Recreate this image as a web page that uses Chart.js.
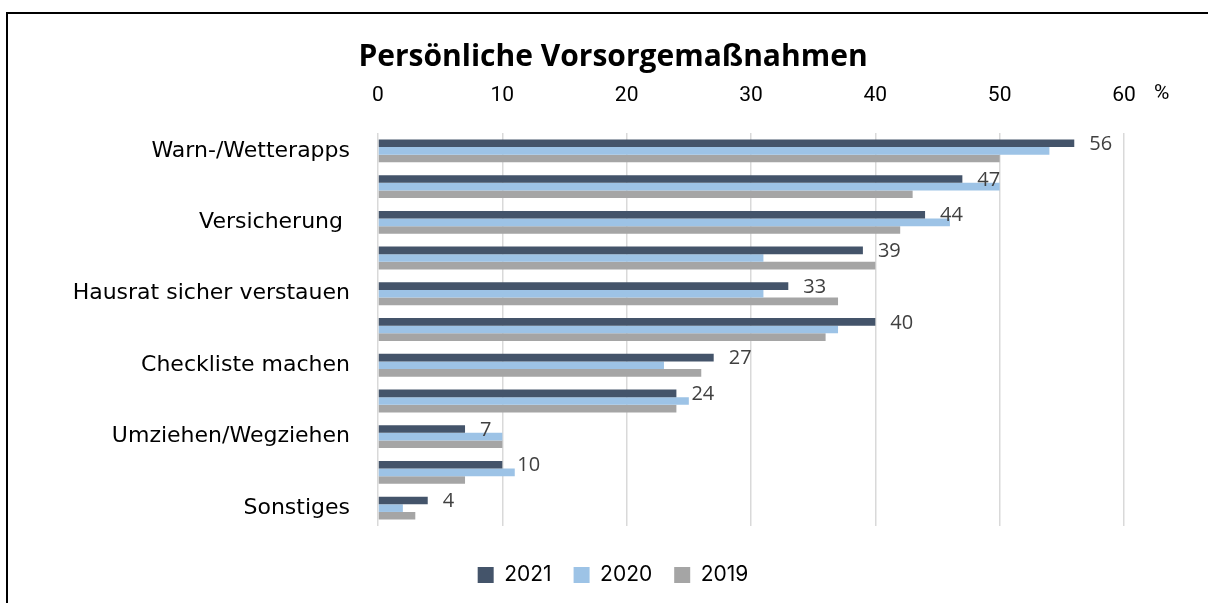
<!DOCTYPE html>
<html>
<head>
<meta charset="utf-8">
<script src="https://cdn.jsdelivr.net/npm/chart.js@4.4.1/dist/chart.umd.min.js"></script>
<style>
  html, body { margin: 0; padding: 0; background: #fff; }
  #wrap { position: relative; width: 1208px; height: 603px; overflow: hidden; }
  #frame { position: absolute; left: 6px; top: 12px; width: 1300px; height: 700px;
           border-left: 2px solid #000; border-top: 2px solid #000; }
  canvas { position: absolute; left: 0; top: 0; }
</style>
</head>
<body>
<div id="wrap">
  <div id="frame"></div>
  <canvas id="c" width="1208" height="603"></canvas>
</div>
<script>
const categories = ['Warn-/Wetterapps', '', 'Versicherung ', '', 'Hausrat sicher verstauen', '', 'Checkliste machen', '', 'Umziehen/Wegziehen', '', 'Sonstiges'];
const seriesNames = ['2021', '2020', '2019'];
const values2021 = [56, 47, 44, 39, 33, 40, 27, 24, 7, 10, 4];
const values2020 = [54, 50, 46, 31, 31, 37, 23, 25, 10, 11, 2];
const values2019 = [50, 43, 42, 40, 37, 36, 26, 24, 10, 7, 3];
const xTicks = [0, 10, 20, 30, 40, 50, 60];
const unitLabel = '%';
const titleText = 'Persönliche Vorsorgemaßnahmen';

const colors = ['#44546A', '#9DC3E6', '#A5A5A5'];

const labelPlugin = {
  id: 'valueLabels',
  afterDatasetsDraw(chart) {
    const ctx = chart.ctx;
    const meta = chart.getDatasetMeta(0);
    ctx.save();
    ctx.font = '20px "Open Sans", sans-serif';
    ctx.fillStyle = '#404040';
    ctx.textAlign = 'left';
    ctx.textBaseline = 'middle';
    meta.data.forEach((bar, i) => {
      ctx.fillText(String(values2021[i]), bar.x + 15, bar.y + 1);
    });
    const xs = chart.scales.x;
    const px = xs.getPixelForValue(xTicks[xTicks.length - 1]);
    ctx.font = '21px Roboto, sans-serif';
    ctx.fillStyle = '#000';
    ctx.textAlign = 'left';
    ctx.fillText(unitLabel, px + 30, 94);
    ctx.restore();
  }
};

new Chart(document.getElementById('c'), {
  type: 'bar',
  data: {
    labels: categories,
    datasets: [
      { label: seriesNames[0], data: values2021, backgroundColor: colors[0] },
      { label: seriesNames[1], data: values2020, backgroundColor: colors[1] },
      { label: seriesNames[2], data: values2019, backgroundColor: colors[2] }
    ]
  },
  options: {
    indexAxis: 'y',
    responsive: false,
    animation: false,
    devicePixelRatio: 1,
    categoryPercentage: 0.64,
    barPercentage: 1.0,
    layout: { padding: { left: 18, right: 0, top: 0, bottom: 7.5 } },
    plugins: {
      title: {
        display: true,
        text: titleText,
        color: '#000',
        font: { family: '"Open Sans", sans-serif', size: 30, weight: 'bold', lineHeight: 1.2 },
        padding: { top: 39, bottom: 0 }
      },
      legend: {
        position: 'bottom',
        title: { display: true, text: '', font: { size: 1 }, padding: { top: 15.3, bottom: 0 } },
        labels: {
          boxWidth: 16, boxHeight: 16, padding: 22,
          color: '#000',
          font: { family: 'Inter, sans-serif', size: 21 }
        }
      },
      tooltip: { enabled: false }
    },
    scales: {
      x: {
        position: 'top',
        min: 0, max: 60,
        afterBuildTicks(scale) { scale.ticks = xTicks.map(v => ({ value: v })); },
        afterFit(scale) { scale.height = 58; },
        ticks: { color: '#000', padding: 25, font: { family: 'Roboto, sans-serif', size: 21 } },
        grid: { color: '#D9D9D9', lineWidth: 1.5, drawTicks: false },
        border: { display: false }
      },
      y: {
        afterFit(scale) { scale.width = 360; },
        ticks: { color: '#000', padding: 20, autoSkip: false, font: { family: '"DejaVu Sans", sans-serif', size: 22 } },
        grid: { display: false },
        border: { display: false }
      },
      yRight: {
        type: 'linear',
        position: 'right',
        display: true,
        afterFit(scale) { scale.width = 84; },
        ticks: { display: false },
        grid: { display: false },
        border: { display: false }
      }
    }
  },
  plugins: [labelPlugin]
});
</script>
</body>
</html>
